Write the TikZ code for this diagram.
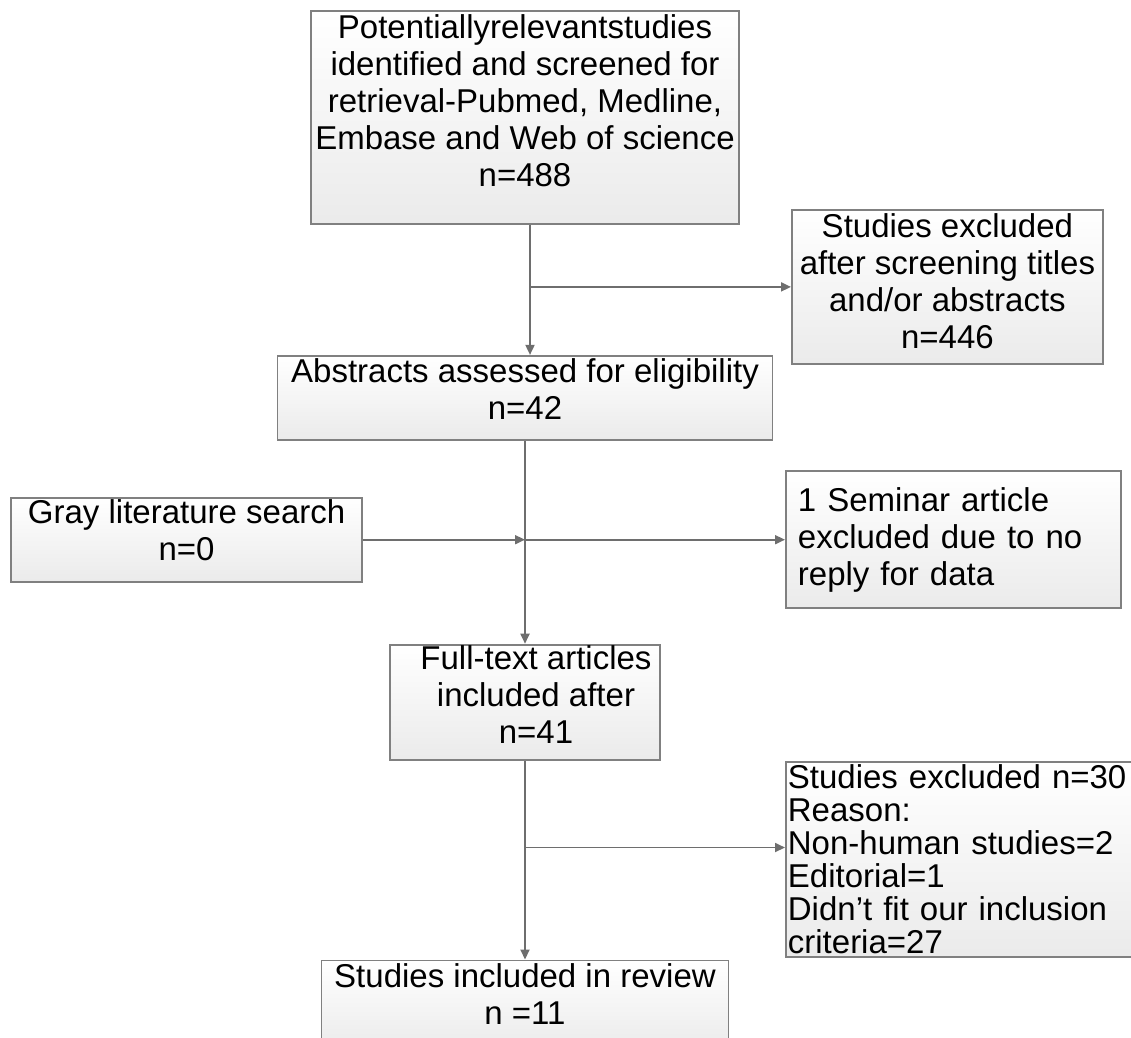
\documentclass[tikz,border=0pt]{standalone}
\usepackage{fontspec}
\setmainfont{Liberation Sans}
\usetikzlibrary{positioning,arrows.meta}
\definecolor{BoxEdge}{HTML}{808080}
\definecolor{FlowLine}{HTML}{6E6E6E}

\begin{document}
\begin{tikzpicture}[
  x=1pt, y=-1pt,
  box/.style={rectangle, draw=BoxEdge, line width=1.8pt, top color=white, bottom color=gray!16, align=center, inner xsep=3pt, inner ysep=0pt, font=\fontsize{33}{37}\selectfont},
  boxL/.style={box, align=left, inner xsep=12pt},
  arr/.style={-{Triangle[length=10pt,width=9pt]}, line width=1.8pt, draw=FlowLine},
  line/.style={line width=1.8pt, draw=FlowLine}
]
\useasboundingbox (0,0) rectangle (1131,1037);

\node[box, minimum width=428pt, minimum height=213pt, text depth=34pt] (search) at (525,117.5)
  {Potentiallyrelevantstudies\\identified and screened for\\retrieval-Pubmed, Medline,\\Embase and Web of science\\n=488};
\node[box, minimum width=495pt, minimum height=84pt, text depth=18pt, below=130pt of search] (abs)
  {Abstracts assessed for eligibility\\n=42};
\coordinate[below=62pt of search, xshift=5pt] (j1);
\node[box, minimum width=311pt, minimum height=154pt, text depth=12pt, right=261pt of j1] (ex1)
  {Studies excluded\\after screening titles\\and/or abstracts\\n=446};

\coordinate[below=99pt of abs] (j2);
\node[box, minimum width=351pt, minimum height=84pt, text depth=20pt, left=162pt of j2] (grey)
  {Gray literature search\\n=0};
\node[boxL, text width=311pt, minimum height=137pt, right=260pt of j2] (ex2)
  {1 Seminar article\\excluded due to no\\reply for data};

\node[box, minimum width=270pt, minimum height=115pt, text depth=16pt, below=203pt of abs] (full)
  {\hspace*{22pt}Full-text articles\\\hspace*{22pt}included after\\\hspace*{22pt}n=41};
\coordinate[below=87pt of full] (j3);
\node[boxL, text width=352pt, inner xsep=2pt, inner ysep=3pt, minimum height=195pt, right=260pt of j3, yshift=-12pt, font=\fontsize{33}{33}\selectfont] (ex3)
  {Studies excluded n=30\\Reason:\\Non-human studies=2\\Editorial=1\\Didn’t fit our inclusion\\criteria=27};

\node[box, minimum width=407pt, minimum height=90pt, text depth=22pt, below=199pt of full] (incl)
  {Studies included in review\\n =11};

\draw[line] (search.south -| j1) -- (j1);
\draw[arr] (j1) -- (j1 |- abs.north);
\draw[arr] (j1) -- (ex1.west);
\draw[arr] (abs) -- (full);
\draw[arr] (grey) -- (j2);
\draw[arr] (j2) -- (ex2.west |- j2);
\draw[arr] (full) -- (incl);
\draw[arr] (j3) -- (ex3.west |- j3);
\end{tikzpicture}
\end{document}
